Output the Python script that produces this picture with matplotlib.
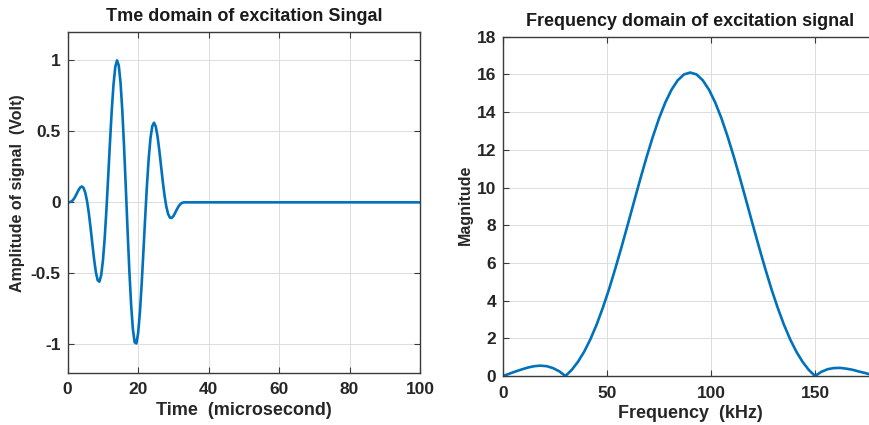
"""Excitation signal: time domain burst and its spectrum."""

import matplotlib
matplotlib.use("Agg")
import matplotlib.pyplot as plt

plt.rcParams["font.family"] = ["Liberation Sans", "DejaVu Sans"]
plt.rcParams["font.weight"] = "bold"

# time domain (microsecond, Volt)
time_us = [0, 0.5, 1, 1.5, 2, 2.5, 3, 3.5, 4, 4.5, 5, 5.5, 6, 6.5, 7, 7.5,
           8, 8.5, 9, 9.5, 10, 10.5, 11, 11.5, 12, 12.5, 13, 13.5, 14, 14.5,
           15, 15.5, 16, 16.5, 17, 17.5, 18, 18.5, 19, 19.5, 20, 20.5, 21,
           21.5, 22, 22.5, 23, 23.5, 24, 24.5, 25, 25.5, 26, 26.5, 27, 27.5,
           28, 28.5, 29, 29.5, 30, 30.5, 31, 31.5, 32, 32.5, 33, 33.5, 100]
amplitude = [0, 0.001, 0.005, 0.016, 0.034, 0.058, 0.083, 0.103, 0.112, 0.102,
             0.068, 0.008, -0.076, -0.180, -0.293, -0.402, -0.492, -0.549,
             -0.559, -0.514, -0.411, -0.253, -0.050, 0.182, 0.421, 0.645,
             0.829, 0.952, 1.000, 0.964, 0.843, 0.647, 0.392, 0.101, -0.200,
             -0.482, -0.720, -0.892, -0.986, -0.994, -0.919, -0.773, -0.574,
             -0.342, -0.103, 0.122, 0.311, 0.452, 0.536, 0.561, 0.534, 0.465,
             0.367, 0.255, 0.144, 0.046, -0.031, -0.082, -0.107, -0.110,
             -0.097, -0.074, -0.049, -0.027, -0.012, -0.003, 0.0, 0.0, 0.0]

# frequency domain (kHz, magnitude)
freq_khz = [0, 3, 6, 9, 12, 15, 18, 21, 24, 27, 30, 33, 36, 39, 42, 45, 48,
            51, 54, 57, 60, 63, 66, 69, 72, 75, 78, 81, 84, 87, 90, 93, 96,
            99, 102, 105, 108, 111, 114, 117, 120, 123, 126, 129, 132, 135,
            138, 141, 144, 147, 150, 153, 156, 159, 162, 165, 168, 171, 174,
            177, 180]
magnitude = [0, 0.12, 0.24, 0.35, 0.45, 0.52, 0.55, 0.52, 0.42, 0.25, 0,
             0.32, 0.75, 1.29, 1.95, 2.73, 3.63, 4.62, 5.71, 6.86, 8.05,
             9.26, 10.46, 11.61, 12.69, 13.67, 14.51, 15.19, 15.69, 16.00,
             16.10, 16.00, 15.69, 15.19, 14.51, 13.67, 12.69, 11.61, 10.46,
             9.26, 8.05, 6.86, 5.71, 4.62, 3.63, 2.73, 1.95, 1.29, 0.75,
             0.32, 0, 0.22, 0.36, 0.42, 0.43, 0.39, 0.33, 0.24, 0.16, 0.07, 0]

LINE = "#0072BD"
AXC = "#3a3a3a"


def style_axes(ax):
    ax.grid(True, color="#dcdcdc", linewidth=0.7)
    ax.set_axisbelow(True)
    ax.tick_params(direction="in", top=True, right=True, labelsize=12.5,
                   color=AXC, labelcolor="#262626", length=4, width=0.8)
    ax.tick_params(axis="x", pad=7)
    ax.tick_params(axis="y", pad=5)
    for lab in ax.get_xticklabels() + ax.get_yticklabels():
        lab.set_fontweight("bold")
    for sp in ax.spines.values():
        sp.set_color(AXC)
        sp.set_linewidth(1.0)


fig = plt.figure(figsize=(8.7, 4.25), dpi=100)

ax1 = fig.add_axes([0.0778, 0.1231, 0.405, 0.8016])
ax1.plot(time_us, amplitude, color=LINE, linewidth=1.9)
ax1.set_xlim(0, 100)
ax1.set_ylim(-1.2, 1.2)
ax1.set_xticks([0, 20, 40, 60, 80, 100])
ax1.set_yticks([-1, -0.5, 0, 0.5, 1])
ax1.set_yticklabels(["-1", "-0.5", "0", "0.5", "1"])
ax1.set_title("Tme domain of excitation Singal", fontsize=13,
              fontweight="bold", pad=8, color="#1a1a1a")
ax1.set_xlabel("Time  (microsecond)", fontsize=13, fontweight="bold",
               color="#262626", labelpad=3)
ax1.set_ylabel("Amplitude of signal  (Volt)", fontsize=11.5, fontweight="bold",
               color="#262626")
ax1.yaxis.set_label_coords(-0.12, 0.527)
style_axes(ax1)

ax2 = fig.add_axes([0.5782, 0.1153, 0.4304, 0.7983])
ax2.plot(freq_khz, magnitude, color=LINE, linewidth=1.9)
ax2.set_xlim(0, 180)
ax2.set_ylim(0, 18)
ax2.set_xticks([0, 50, 100, 150])
ax2.set_yticks(range(0, 19, 2))
ax2.set_title("Frequency domain of excitation signal", fontsize=13,
              fontweight="bold", pad=8, color="#1a1a1a")
ax2.set_xlabel("Frequency  (kHz)", fontsize=13, fontweight="bold",
               color="#262626", labelpad=3)
ax2.set_ylabel("Magnitude", fontsize=11.5, fontweight="bold",
               color="#262626")
ax2.yaxis.set_label_coords(-0.08, 0.504)
style_axes(ax2)

fig.savefig("out.png", dpi=100)
plt.close(fig)
